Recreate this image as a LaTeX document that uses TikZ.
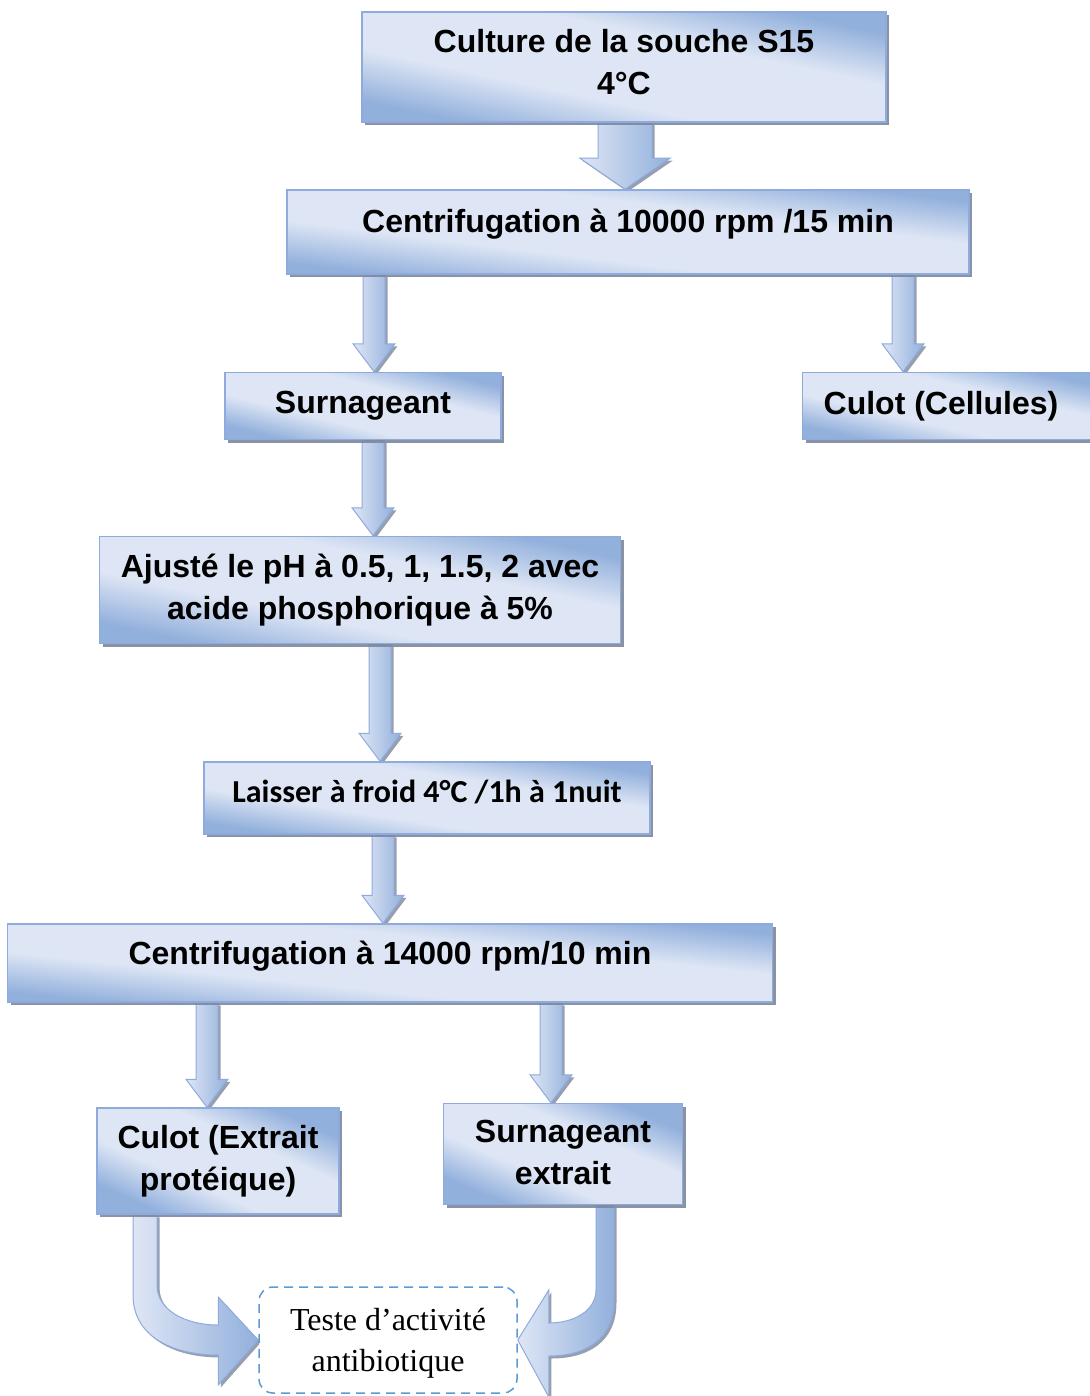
\documentclass[tikz,border=0pt]{standalone}
\usepackage{fontspec}
\setmainfont{Liberation Sans}
\newfontfamily\calib{Carlito}
\newfontfamily\timesf{Liberation Serif}
\usetikzlibrary{calc,shadows,backgrounds}
\definecolor{boxedge}{RGB}{143,170,220}
\definecolor{boxdark}{RGB}{146,176,220}
\definecolor{boxlight}{RGB}{222,230,245}
\definecolor{dashblue}{RGB}{91,155,213}
\definecolor{shadowgray}{RGB}{125,135,155}
\pgfdeclarehorizontalshading{boxshade}{100bp}{color(0bp)=(boxdark); color(26bp)=(boxdark);
  color(40bp)=(boxlight); color(60bp)=(boxlight); color(74bp)=(boxdark); color(100bp)=(boxdark)}
\newcommand\vblock[6]{%
  \path[arrowfill] let \p1=(#1.south), \p2=(#2.north) in
   (#3pt-#4pt,\y1) -- (#3pt-#4pt,\y2+#6pt) -- (#3pt-#5pt,\y2+#6pt) -- (#3pt,\y2)
   -- (#3pt+#5pt,\y2+#6pt) -- (#3pt+#4pt,\y2+#6pt) -- (#3pt+#4pt,\y1) -- cycle;}
\begin{document}
\begin{tikzpicture}[x=1pt,y=-1pt,
  stepbox/.style={draw=boxedge, line width=1.5pt, shading=boxshade, shading angle=80,
    drop shadow={shadow xshift=3pt, shadow yshift=-3pt, fill=shadowgray, opacity=0.9},
    inner sep=0pt, align=center, font=\bfseries\fontsize{32}{42}\selectfont},
  arrowfill/.style={draw=boxedge, line width=1pt, left color=boxlight, right color=boxdark,
    drop shadow={shadow xshift=2.5pt, shadow yshift=-2.5pt, fill=shadowgray, opacity=0.8}},
  testbox/.style={draw=dashblue, dash pattern=on 9pt off 6pt, line width=1.5pt, rounded corners=14pt,
    align=center, fill=white, inner sep=0pt, font=\timesf\fontsize{32}{41}\selectfont}]
\useasboundingbox (0,0) rectangle (1089,1396);

\node[stepbox, shading angle=78, minimum width=524, minimum height=110, text depth=10pt] (n1) at (624,67) {Culture de la souche S15\\4°C};
\node[stepbox, shading angle=83, minimum width=682, minimum height=84, text depth=22pt] (n2) at (628,232) {Centrifugation à 10000 rpm /15 min};
\node[stepbox, shading angle=76, minimum width=276, minimum height=67] (n3) at (363,406) {Surnageant};
\node[stepbox, shading angle=77, minimum width=297, minimum height=67] (n4) at (951,406) {Culot (Cellules)\hspace*{20pt}};
\node[stepbox, shading angle=78, minimum width=521, minimum height=107] (n5) at (360,590) {Ajusté le pH à 0.5, 1, 1.5, 2 avec\\acide phosphorique à 5\%};
\node[stepbox, shading angle=81, minimum width=446, minimum height=72, text depth=13pt, font=\calib\bfseries\fontsize{32}{38}\selectfont] (n6) at (427,798) {Laisser à froid 4°C /1h à 1nuit};
\node[stepbox, shading angle=84, minimum width=765, minimum height=78, text depth=20pt] (n7) at (390,963) {Centrifugation à 14000 rpm/10 min};
\node[stepbox, shading angle=66, minimum width=242, minimum height=106] (n8) at (218,1161) {Culot (Extrait\\protéique)};
\node[stepbox, shading angle=67, minimum width=239, minimum height=101, text depth=4pt] (n9) at (563,1154) {Surnageant\\extrait};
\node[testbox, minimum width=258, minimum height=106, text depth=-3pt] (t) at (388,1340) {Teste d’activité\\antibiotique};

\begin{scope}[on background layer]
\vblock{n1}{n2}{625}{27}{45}{31}
\vblock{n2}{n3}{374}{11}{21}{28}
\vblock{n2}{n4}{903}{11}{21}{28}
\vblock{n3}{n5}{373}{11}{21}{28}
\vblock{n5}{n6}{380}{11}{21}{28}
\vblock{n6}{n7}{383}{11}{21}{28}
\vblock{n7}{n8}{207}{11}{21}{28}
\vblock{n7}{n9}{551}{11}{21}{28}
\path[arrowfill] let \p1=(n8.south), \p2=(t.west) in
  (133pt,\y1) -- (133pt,\y2+45pt) .. controls (133pt,\y2+5pt) and (170pt,\y2-15pt) .. (\x2-40pt,\y2-15pt)
  -- (\x2-40pt,\y2-45pt) -- (\x2,\y2) -- (\x2-40pt,\y2+43pt) -- (\x2-40pt,\y2+15pt)
  .. controls (185pt,\y2+15pt) and (157pt,\y2+30pt) .. (157pt,\y2+55pt) -- (157pt,\y1) -- cycle;
\path[arrowfill] let \p1=(n9.south), \p2=(t.east) in
  (614pt,\y1) -- (614pt,\y2+40pt) .. controls (614pt,\y2) and (585pt,\y2-16pt) .. (\x2+31pt,\y2-16pt)
  -- (\x2+31pt,\y2-57pt) -- (\x2,\y2) -- (\x2+31pt,\y2+50pt) -- (\x2+31pt,\y2+17pt)
  .. controls (575pt,\y2+17pt) and (596pt,\y2+30pt) .. (596pt,\y2+50pt) -- (596pt,\y1) -- cycle;
\end{scope}
\end{tikzpicture}
\end{document}
